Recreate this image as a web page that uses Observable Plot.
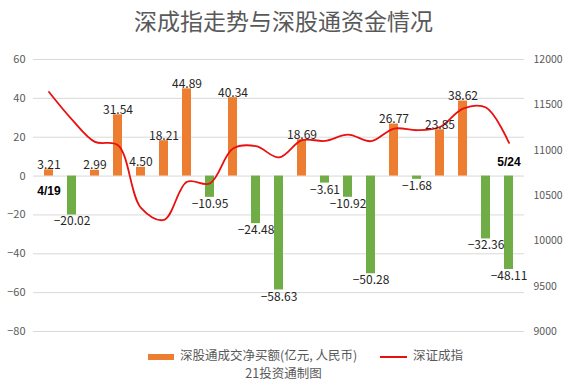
<!DOCTYPE html>
<html>
<head>
<meta charset="utf-8">
<script src="https://cdn.jsdelivr.net/npm/d3@7"></script>
<script src="https://cdn.jsdelivr.net/npm/@observablehq/plot@0.6"></script>
<style>
  html, body { margin: 0; padding: 0; background: #fff; }
  #wrap { position: relative; width: 567px; height: 386px; overflow: hidden; font-family: "Noto Sans CJK SC", "Noto Sans", sans-serif; }
  #title { position: absolute; left: 0; top: 0; width: 567px; height: 40px; line-height: 40px; text-align: center; font-size: 23px; color: #595959; }
  #chart { position: absolute; left: 0; top: 40px; }
  #legend { position: absolute; left: 0; top: 346px; width: 567px; height: 18px; font-size: 12.5px; color: #595959; }
  #legend .item { position: absolute; top: 0; line-height: 18px; white-space: nowrap; }
  #legend .sw { display: inline-block; vertical-align: middle; margin-right: 6px; }
  #caption { position: absolute; left: 0; top: 364px; width: 567px; text-align: center; font-size: 12.5px; color: #595959; line-height: 18px; }
</style>
</head>
<body>
<div id="wrap">
  <div id="title">深成指走势与深股通资金情况</div>
  <div id="chart"></div>
  <div id="legend"></div>
  <div id="caption">21投资通制图</div>
</div>
<script>
// ---- data ----
const dates = ["4/19","4/23","4/24","4/25","4/26","4/29","4/30","5/6","5/7","5/8","5/9","5/10","5/14","5/15","5/16","5/17","5/20","5/21","5/22","5/23","5/24"];
const netBuy = [3.21, -20.02, 2.99, 31.54, 4.50, 18.21, 44.89, -10.95, 40.34, -24.48, -58.63, 18.69, -3.61, -10.92, -50.28, 26.77, -1.68, 23.85, 38.62, -32.36, -48.11];
const szIndex = [11641, 11337, 11091, 11055, 10363, 10231, 10651, 10634, 11018, 11044, 10920, 11110, 11102, 11172, 11099, 11238, 11220, 11256, 11458, 11470, 11081];
const leftTicks = [-80, -60, -40, -20, 0, 20, 40, 60];
const rightTicks = [9000, 9500, 10000, 10500, 11000, 11500, 12000];
const seriesNames = ["深股通成交净买额(亿元, 人民币)", "深证成指"];
const startLabel = "4/19";
const endLabel = "5/24";

// ---- scales mapping (right axis onto left domain) ----
const leftDomain = [-80, 60];
const rightDomain = [9000, 12000];
const toLeft = v => leftDomain[0] + (v - rightDomain[0]) * (leftDomain[1] - leftDomain[0]) / (rightDomain[1] - rightDomain[0]);
const toRight = v => Math.round(rightDomain[0] + (v - leftDomain[0]) * (rightDomain[1] - rightDomain[0]) / (leftDomain[1] - leftDomain[0]));

const colors = { pos: "#ED7D31", neg: "#70AD47", line: "#E8110F" };

const rows = dates.map((d, i) => ({ date: d, flow: netBuy[i], idx: szIndex[i], idxL: toLeft(szIndex[i]) }));
const fmt = d3.format(".2f");

const chart = Plot.plot({
  width: 567,
  height: 300,
  marginLeft: 33,
  marginRight: 43,
  marginTop: 19,
  marginBottom: 9,
  style: { fontFamily: "'Noto Sans CJK SC', 'Noto Sans', sans-serif", background: "transparent" },
  x: { type: "band", domain: dates, paddingInner: 0.6, paddingOuter: 0.314, axis: null },
  y: { domain: leftDomain, axis: null },
  marks: [
    Plot.gridY(leftTicks, { stroke: "#d9d9d9", strokeOpacity: 1, strokeWidth: 1 }),
    Plot.axisY(leftTicks, { anchor: "left", tickSize: 0, tickPadding: 8, fontSize: 11, fill: "#595959", label: null }),
    Plot.axisY(rightTicks.map(toLeft), { anchor: "right", tickSize: 0, tickPadding: 9, fontSize: 10.5, fill: "#595959", label: null, tickFormat: v => String(toRight(v)) }),
    Plot.barY(rows, { x: "date", y: "flow", fill: d => d.flow >= 0 ? colors.pos : colors.neg }),
    Plot.line(rows, { x: "date", y: "idxL", stroke: colors.line, strokeWidth: 1.8, curve: "catmull-rom" }),
    Plot.text(rows.filter(d => d.flow >= 0), { x: "date", y: "flow", text: d => fmt(d.flow), lineAnchor: "bottom", dy: -1, fontSize: 12, fill: "#262626" }),
    Plot.text(rows.filter(d => d.flow < 0), { x: "date", y: "flow", text: d => fmt(d.flow), lineAnchor: "top", dy: 2, fontSize: 12, fill: "#262626" }),
    Plot.text([startLabel], { x: d => d, y: () => 0, text: d => d, dy: 15, fontSize: 12, fontWeight: "bold", fill: "#000", fontFamily: "'Liberation Sans', sans-serif" }),
    Plot.text([endLabel], { x: d => d, y: () => 0, text: d => d, dy: -14, fontSize: 12, fontWeight: "bold", fill: "#000", fontFamily: "'Liberation Sans', sans-serif" })
  ]
});
document.getElementById("chart").appendChild(chart);

// legend
const legend = document.getElementById("legend");
legend.innerHTML =
  `<span class="item" style="left:148px"><span class="sw" style="width:26px;height:6px;background:${colors.pos}"></span>${seriesNames[0]}</span>` +
  `<span class="item" style="left:380px"><span class="sw" style="width:27px;height:2px;background:${colors.line}"></span>${seriesNames[1]}</span>`;
</script>
</body>
</html>
